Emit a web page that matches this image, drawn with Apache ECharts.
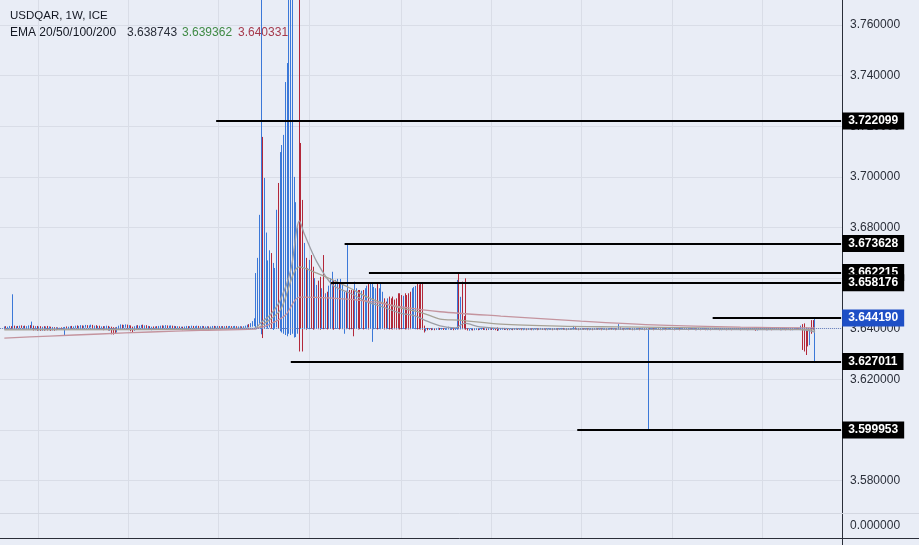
<!DOCTYPE html>
<html><head><meta charset="utf-8">
<script src="https://cdn.jsdelivr.net/npm/echarts@6.0.0/dist/echarts.min.js"></script>
<style>html,body{margin:0;padding:0;background:#e9edf6;}#chart{width:919px;height:545px;}</style>
</head><body><div id="chart"></div>
<script>
// ---------- DATA ----------
const firstCategoryWeek = '2014-08-04';
const weekCount = 485;           // weekly slots on the time axis (incl. right-hand padding)
const candleOffset = 2;          // first candle (2014-08-18) sits in slot 2

// weekly candles [open, high, low, close]
const weeklyOHLC = [
// 2014-08-18 ...
[3.6403,3.6409,3.6398,3.6406],[3.6406,3.6410,3.6400,3.6402],[3.6402,3.6408,3.6399,3.6405],[3.6405,3.6411,3.6401,3.6408],[3.6408,3.6410,3.6399,3.6403],
[3.6403,3.6536,3.6400,3.6409],[3.6409,3.6412,3.6401,3.6404],[3.6404,3.6410,3.6400,3.6407],[3.6407,3.6411,3.6402,3.6405],[3.6405,3.6412,3.6401,3.6409],
[3.6409,3.6413,3.6403,3.6406],[3.6406,3.6411,3.6400,3.6408],[3.6408,3.6412,3.6402,3.6404],[3.6404,3.6410,3.6399,3.6407],[3.6407,3.6413,3.6403,3.6410],
[3.6410,3.6414,3.6402,3.6405],[3.6405,3.6428,3.6401,3.6409],[3.6409,3.6412,3.6393,3.6398],[3.6398,3.6410,3.6394,3.6406],[3.6406,3.6411,3.6392,3.6397],
[3.6397,3.6409,3.6393,3.6405],[3.6405,3.6410,3.6391,3.6396],[3.6396,3.6408,3.6392,3.6404],[3.6404,3.6410,3.6392,3.6397],[3.6397,3.6409,3.6394,3.6406],
[3.6406,3.6411,3.6393,3.6398],[3.6398,3.6409,3.6394,3.6403],[3.6403,3.6408,3.6391,3.6396],[3.6396,3.6407,3.6393,3.6402],[3.6402,3.6406,3.6392,3.6397],
[3.6397,3.6406,3.6394,3.6401],[3.6401,3.6405,3.6395,3.6398],[3.6398,3.6404,3.6395,3.6402],[3.6402,3.6405,3.6396,3.6399],[3.6399,3.6406,3.6395,3.6403],
[3.6403,3.6407,3.6375,3.6405],[3.6405,3.6409,3.6399,3.6402],[3.6402,3.6408,3.6398,3.6406],[3.6406,3.6410,3.6400,3.6408],[3.6408,3.6411,3.6399,3.6403],
[3.6403,3.6409,3.6400,3.6407],[3.6407,3.6412,3.6402,3.6410],[3.6410,3.6413,3.6401,3.6404],[3.6404,3.6411,3.6400,3.6409],[3.6409,3.6414,3.6403,3.6411],
[3.6411,3.6413,3.6402,3.6405],[3.6405,3.6412,3.6401,3.6410],[3.6410,3.6415,3.6404,3.6412],[3.6412,3.6414,3.6403,3.6406],[3.6406,3.6413,3.6402,3.6411],
[3.6411,3.6416,3.6405,3.6413],[3.6413,3.6415,3.6401,3.6404],[3.6404,3.6412,3.6400,3.6410],[3.6410,3.6414,3.6398,3.6401],[3.6401,3.6411,3.6397,3.6408],
[3.6408,3.6412,3.6396,3.6400],[3.6400,3.6409,3.6395,3.6406],[3.6406,3.6410,3.6394,3.6399],[3.6399,3.6410,3.6396,3.6407],[3.6407,3.6412,3.6398,3.6409],
[3.6409,3.6411,3.6393,3.6397],[3.6397,3.6408,3.6392,3.6404],[3.6404,3.6408,3.6378,3.6392],[3.6392,3.6406,3.6377,3.6390],[3.6395,3.6405,3.6380,3.6388],
[3.6388,3.6407,3.6385,3.6404],[3.6404,3.6412,3.6398,3.6410],[3.6410,3.6417,3.6402,3.6413],[3.6413,3.6416,3.6401,3.6406],[3.6406,3.6415,3.6402,3.6412],
[3.6412,3.6417,3.6404,3.6414],[3.6414,3.6416,3.6400,3.6405],[3.6405,3.6414,3.6401,3.6411],[3.6411,3.6413,3.6390,3.6396],[3.6404,3.6408,3.6385,3.6395],
[3.6395,3.6410,3.6392,3.6407],[3.6407,3.6413,3.6401,3.6410],[3.6410,3.6414,3.6400,3.6404],[3.6404,3.6412,3.6400,3.6409],[3.6409,3.6415,3.6403,3.6412],
[3.6412,3.6416,3.6402,3.6406],[3.6406,3.6413,3.6401,3.6410],[3.6410,3.6414,3.6400,3.6404],[3.6404,3.6411,3.6399,3.6408],[3.6408,3.6410,3.6397,3.6401],
[3.6401,3.6408,3.6394,3.6405],[3.6405,3.6409,3.6396,3.6402],[3.6402,3.6409,3.6395,3.6406],[3.6406,3.6410,3.6398,3.6403],[3.6403,3.6411,3.6399,3.6408],
[3.6408,3.6412,3.6401,3.6410],[3.6410,3.6413,3.6400,3.6405],[3.6405,3.6412,3.6401,3.6409],[3.6409,3.6414,3.6402,3.6411],[3.6411,3.6413,3.6401,3.6404],
[3.6404,3.6412,3.6400,3.6409],[3.6409,3.6413,3.6403,3.6410],[3.6410,3.6412,3.6399,3.6403],[3.6403,3.6411,3.6400,3.6408],[3.6408,3.6410,3.6396,3.6400],
[3.6400,3.6410,3.6397,3.6407],[3.6407,3.6409,3.6395,3.6399],[3.6399,3.6408,3.6396,3.6405],[3.6405,3.6408,3.6394,3.6398],[3.6398,3.6409,3.6395,3.6406],
[3.6406,3.6411,3.6400,3.6409],[3.6409,3.6410,3.6397,3.6401],[3.6401,3.6410,3.6398,3.6407],[3.6407,3.6412,3.6401,3.6410],[3.6410,3.6411,3.6398,3.6402],
[3.6402,3.6410,3.6399,3.6408],[3.6408,3.6412,3.6402,3.6410],[3.6410,3.6411,3.6399,3.6403],[3.6403,3.6410,3.6400,3.6407],[3.6407,3.6411,3.6401,3.6409],
[3.6409,3.6410,3.6398,3.6402],[3.6402,3.6409,3.6399,3.6406],[3.6406,3.6410,3.6400,3.6408],[3.6408,3.6409,3.6397,3.6401],[3.6401,3.6409,3.6398,3.6406],
[3.6406,3.6411,3.6401,3.6409],[3.6409,3.6411,3.6399,3.6403],[3.6403,3.6410,3.6400,3.6408],[3.6408,3.6411,3.6402,3.6409],[3.6409,3.6410,3.6400,3.6404],
[3.6404,3.6410,3.6401,3.6408],[3.6408,3.6410,3.6402,3.6406],[3.6406,3.6410,3.6401,3.6408],[3.6408,3.6411,3.6402,3.6405],[3.6405,3.6410,3.6401,3.6408],
[3.6408,3.6411,3.6403,3.6409],[3.6409,3.6410,3.6400,3.6404],[3.6404,3.6410,3.6401,3.6408],[3.6408,3.6411,3.6402,3.6409],[3.6409,3.6410,3.6401,3.6403],
[3.6403,3.6409,3.6400,3.6407],[3.6407,3.6410,3.6402,3.6408],[3.6408,3.6409,3.6399,3.6402],[3.6402,3.6410,3.6400,3.6408],[3.6408,3.6412,3.6403,3.6410],
[3.6410,3.6416,3.6404,3.6413],[3.6413,3.6418,3.6405,3.6410],[3.6410,3.6422,3.6406,3.6418],[3.6418,3.6430,3.6408,3.6425],[3.6425,3.6441,3.6410,3.6435],
// 2017 spike
[3.6420,3.6620,3.6398,3.6560],[3.6460,3.6680,3.6400,3.6600],[3.6500,3.6850,3.6420,3.6700],[3.6450,3.7950,3.6378,3.6900],[3.6700,3.7158,3.6363,3.6450],
[3.6450,3.6996,3.6400,3.6700],[3.6450,3.6780,3.6405,3.6600],[3.6450,3.6670,3.6400,3.6550],[3.6480,3.6710,3.6405,3.6600],[3.6600,3.6699,3.6400,3.6450],
[3.6450,3.6660,3.6395,3.6550],[3.6480,3.6640,3.6400,3.6580],[3.6500,3.6870,3.6405,3.6700],[3.6700,3.6976,3.6400,3.6500],[3.6500,3.7098,3.6390,3.6800],
[3.6550,3.7126,3.6385,3.6850],[3.6600,3.7166,3.6380,3.6900],[3.6650,3.7375,3.6375,3.7000],[3.6700,3.7450,3.6370,3.7200],[3.6800,3.8000,3.6380,3.7300],
[3.6900,3.8000,3.6375,3.7400],[3.6800,3.8000,3.6380,3.7100],[3.6600,3.7000,3.6365,3.6800],[3.6550,3.6900,3.6367,3.6750],[3.6500,3.6800,3.6380,3.6700],
[3.8000,3.8100,3.6310,3.7600],[3.6650,3.7134,3.6400,3.6450],[3.6600,3.6909,3.6310,3.6450],
// decay
[3.6450,3.6739,3.6398,3.6600],[3.6620,3.6680,3.6396,3.6450],[3.6450,3.6640,3.6400,3.6580],[3.6480,3.6672,3.6398,3.6600],[3.6600,3.6691,3.6400,3.6450],
[3.6580,3.6645,3.6396,3.6440],[3.6440,3.6600,3.6398,3.6550],[3.6450,3.6573,3.6400,3.6520],[3.6540,3.6590,3.6398,3.6430],[3.6560,3.6605,3.6396,3.6430],
[3.6430,3.6560,3.6399,3.6520],[3.6600,3.6691,3.6398,3.6450],[3.6440,3.6540,3.6400,3.6500],[3.6520,3.6546,3.6397,3.6430],[3.6430,3.6570,3.6399,3.6530],
[3.6450,3.6600,3.6400,3.6560],[3.6460,3.6625,3.6398,3.6580],[3.6560,3.6590,3.6396,3.6440],[3.6440,3.6593,3.6399,3.6550],[3.6450,3.6597,3.6400,3.6560],
[3.6560,3.6580,3.6397,3.6440],[3.6440,3.6597,3.6399,3.6550],[3.6450,3.6573,3.6398,3.6530],[3.6440,3.6546,3.6380,3.6500],[3.6520,3.6550,3.6398,3.6440],
[3.6440,3.6735,3.6400,3.6560],[3.6540,3.6553,3.6397,3.6430],[3.6530,3.6553,3.6398,3.6430],[3.6540,3.6553,3.6370,3.6440],[3.6440,3.6586,3.6399,3.6550],
[3.6450,3.6560,3.6400,3.6530],[3.6540,3.6553,3.6397,3.6440],[3.6540,3.6553,3.6398,3.6440],[3.6440,3.6550,3.6400,3.6520],[3.6530,3.6553,3.6397,3.6430],
[3.6430,3.6560,3.6399,3.6530],[3.6440,3.6570,3.6398,3.6540],[3.6560,3.6582,3.6397,3.6440],[3.6440,3.6579,3.6400,3.6550],[3.6450,3.6579,3.6348,3.6540],
[3.6440,3.6565,3.6398,3.6530],[3.6450,3.6560,3.6400,3.6520],[3.6560,3.6579,3.6397,3.6440],[3.6440,3.6560,3.6399,3.6520],[3.6450,3.6579,3.6398,3.6540],
[3.6440,3.6546,3.6400,3.6510],[3.6500,3.6520,3.6397,3.6430],[3.6490,3.6507,3.6398,3.6430],[3.6430,3.6520,3.6399,3.6500],[3.6500,3.6527,3.6397,3.6430],
[3.6500,3.6520,3.6398,3.6430],[3.6510,3.6527,3.6397,3.6440],[3.6500,3.6515,3.6398,3.6430],[3.6500,3.6520,3.6397,3.6430],[3.6520,3.6540,3.6398,3.6440],
[3.6520,3.6540,3.6397,3.6440],[3.6510,3.6533,3.6398,3.6440],[3.6440,3.6530,3.6399,3.6510],[3.6520,3.6540,3.6397,3.6440],[3.6510,3.6533,3.6398,3.6440],
[3.6520,3.6540,3.6397,3.6440],[3.6530,3.6546,3.6398,3.6440],[3.6440,3.6560,3.6399,3.6530],[3.6450,3.6565,3.6400,3.6540],[3.6450,3.6569,3.6398,3.6550],
[3.6560,3.6579,3.6397,3.6440],[3.6560,3.6575,3.6398,3.6440],[3.6560,3.6579,3.6397,3.6440],[3.6570,3.6582,3.6396,3.6420],[3.6410,3.6412,3.6385,3.6395],
[3.6395,3.6402,3.6390,3.6400],
// flat 2019 - 2023
[3.6400,3.6403,3.6394,3.6397],[3.6397,3.6402,3.6395,3.6400],[3.6400,3.6402,3.6394,3.6396],[3.6396,3.6403,3.6395,3.6401],[3.6401,3.6402,3.6394,3.6398],
[3.6398,3.6402,3.6395,3.6400],[3.6400,3.6404,3.6396,3.6402],[3.6402,3.6403,3.6395,3.6398],[3.6398,3.6403,3.6396,3.6401],[3.6401,3.6402,3.6395,3.6397],
[3.6397,3.6402,3.6395,3.6400],[3.6400,3.6404,3.6396,3.6402],[3.6402,3.6408,3.6397,3.6405],[3.6405,3.6406,3.6396,3.6399],[3.6399,3.6403,3.6395,3.6401],
[3.6401,3.6402,3.6394,3.6397],[3.6397,3.6403,3.6395,3.6400],
[3.6400,3.6593,3.6396,3.6560],[3.6590,3.6621,3.6398,3.6420],[3.6420,3.6526,3.6397,3.6500],[3.6560,3.6586,3.6398,3.6420],[3.6420,3.6450,3.6398,3.6405],[3.6580,3.6599,3.6396,3.6400],
[3.6400,3.6402,3.6393,3.6396],[3.6396,3.6401,3.6392,3.6399],[3.6399,3.6402,3.6394,3.6400],[3.6400,3.6401,3.6393,3.6396],[3.6396,3.6402,3.6394,3.6400],
[3.6400,3.6403,3.6395,3.6401],[3.6401,3.6402,3.6394,3.6397],[3.6397,3.6402,3.6395,3.6400],[3.6400,3.6403,3.6396,3.6402],[3.6402,3.6403,3.6395,3.6398],
[3.6398,3.6402,3.6395,3.6400],[3.6400,3.6402,3.6394,3.6397],[3.6397,3.6402,3.6395,3.6401],[3.6401,3.6403,3.6396,3.6402],[3.6402,3.6403,3.6395,3.6398],
[3.6398,3.6402,3.6395,3.6400],[3.6400,3.6402,3.6394,3.6397],[3.6403,3.6405,3.6391,3.6395],[3.6395,3.6401,3.6393,3.6399],[3.6399,3.6402,3.6395,3.6400],
[3.6400,3.6403,3.6396,3.6402],[3.6402,3.6403,3.6395,3.6397],[3.6397,3.6402,3.6395,3.6400],[3.6400,3.6402,3.6394,3.6396],[3.6396,3.6401,3.6394,3.6399],
[3.6399,3.6402,3.6395,3.6401],[3.6401,3.6402,3.6394,3.6397],[3.6397,3.6401,3.6395,3.6400],[3.6400,3.6403,3.6396,3.6401],[3.6401,3.6402,3.6395,3.6398],
[3.6398,3.6402,3.6395,3.6400],[3.6400,3.6402,3.6394,3.6396],[3.6396,3.6402,3.6394,3.6400],[3.6400,3.6403,3.6396,3.6401],[3.6401,3.6402,3.6394,3.6397],
[3.6397,3.6401,3.6395,3.6400],[3.6400,3.6402,3.6395,3.6401],[3.6401,3.6402,3.6394,3.6396],[3.6396,3.6401,3.6394,3.6399],[3.6399,3.6402,3.6395,3.6400],
[3.6400,3.6402,3.6394,3.6397],[3.6397,3.6401,3.6395,3.6400],[3.6400,3.6403,3.6396,3.6401],[3.6401,3.6402,3.6395,3.6398],[3.6398,3.6402,3.6395,3.6400],
[3.6400,3.6401,3.6394,3.6396],[3.6396,3.6401,3.6394,3.6399],[3.6399,3.6402,3.6395,3.6400],[3.6400,3.6402,3.6395,3.6401],[3.6401,3.6402,3.6394,3.6397],
[3.6397,3.6401,3.6395,3.6400],[3.6400,3.6402,3.6395,3.6401],[3.6401,3.6402,3.6394,3.6397],[3.6397,3.6402,3.6395,3.6400],[3.6400,3.6403,3.6396,3.6402],
[3.6402,3.6403,3.6395,3.6398],[3.6398,3.6402,3.6395,3.6400],[3.6400,3.6402,3.6394,3.6397],[3.6397,3.6402,3.6395,3.6401],[3.6401,3.6402,3.6395,3.6398],
[3.6398,3.6402,3.6395,3.6400],[3.6400,3.6411,3.6396,3.6404],[3.6404,3.6405,3.6396,3.6399],[3.6399,3.6403,3.6395,3.6401],[3.6401,3.6402,3.6394,3.6397],
[3.6397,3.6402,3.6395,3.6400],[3.6400,3.6403,3.6396,3.6401],[3.6401,3.6402,3.6395,3.6398],[3.6398,3.6402,3.6395,3.6400],[3.6400,3.6402,3.6394,3.6396],
[3.6396,3.6401,3.6394,3.6399],[3.6399,3.6402,3.6395,3.6401],[3.6401,3.6402,3.6394,3.6397],[3.6397,3.6402,3.6395,3.6400],[3.6400,3.6403,3.6396,3.6401],
[3.6401,3.6402,3.6395,3.6398],[3.6398,3.6402,3.6395,3.6400],[3.6400,3.6402,3.6394,3.6397],[3.6397,3.6401,3.6395,3.6400],[3.6400,3.6402,3.6395,3.6401],
[3.6401,3.6402,3.6394,3.6397],[3.6397,3.6402,3.6395,3.6400],[3.6400,3.6403,3.6396,3.6402],[3.6402,3.6403,3.6395,3.6398],[3.6398,3.6402,3.6395,3.6400],
[3.6400,3.6402,3.6394,3.6397],[3.6397,3.6402,3.6395,3.6400],[3.6400,3.6418,3.6396,3.6404],[3.6404,3.6405,3.6395,3.6399],[3.6399,3.6402,3.6395,3.6400],
[3.6400,3.6402,3.6394,3.6397],[3.6397,3.6401,3.6395,3.6400],[3.6400,3.6403,3.6396,3.6401],[3.6401,3.6402,3.6395,3.6398],[3.6398,3.6402,3.6395,3.6400],
[3.6400,3.6401,3.6394,3.6396],[3.6396,3.6401,3.6394,3.6399],[3.6399,3.6402,3.6395,3.6400],[3.6400,3.6402,3.6395,3.6401],[3.6401,3.6402,3.6394,3.6397],
[3.6397,3.6401,3.6395,3.6400],[3.6400,3.6402,3.6395,3.6401],[3.6401,3.6402,3.6394,3.6397],[3.6397,3.6402,3.6395,3.6400],[3.6396,3.6403,3.59995,3.6401],
[3.6401,3.6402,3.6395,3.6398],[3.6398,3.6402,3.6395,3.6400],[3.6400,3.6402,3.6394,3.6397],[3.6397,3.6402,3.6395,3.6401],[3.6401,3.6402,3.6395,3.6398],
[3.6398,3.6402,3.6395,3.6400],[3.6400,3.6402,3.6394,3.6396],[3.6396,3.6401,3.6394,3.6399],[3.6399,3.6402,3.6395,3.6401],[3.6401,3.6402,3.6394,3.6397],
[3.6397,3.6401,3.6395,3.6400],[3.6400,3.6403,3.6396,3.6401],[3.6401,3.6402,3.6395,3.6398],[3.6398,3.6402,3.6395,3.6400],[3.6400,3.6402,3.6394,3.6397],
[3.6397,3.6401,3.6395,3.6400],[3.6400,3.6402,3.6395,3.6401],[3.6401,3.6402,3.6394,3.6397],[3.6397,3.6402,3.6395,3.6400],[3.6400,3.6403,3.6396,3.6402],
[3.6402,3.6403,3.6395,3.6398],[3.6398,3.6402,3.6395,3.6400],[3.6400,3.6402,3.6394,3.6397],[3.6397,3.6402,3.6395,3.6401],[3.6401,3.6402,3.6395,3.6398],
[3.6398,3.6402,3.6395,3.6400],[3.6400,3.6402,3.6394,3.6396],[3.6396,3.6402,3.6394,3.6400],[3.6400,3.6403,3.6396,3.6401],[3.6401,3.6402,3.6394,3.6397],
[3.6397,3.6401,3.6395,3.6400],[3.6400,3.6402,3.6395,3.6401],[3.6401,3.6402,3.6394,3.6396],[3.6396,3.6401,3.6394,3.6399],[3.6399,3.6402,3.6395,3.6400],
[3.6400,3.6402,3.6394,3.6397],[3.6397,3.6401,3.6395,3.6400],[3.6400,3.6403,3.6396,3.6401],[3.6401,3.6402,3.6395,3.6398],[3.6398,3.6402,3.6395,3.6400],
[3.6400,3.6401,3.6394,3.6396],[3.6396,3.6401,3.6394,3.6399],[3.6399,3.6402,3.6395,3.6400],[3.6400,3.6402,3.6395,3.6401],[3.6401,3.6402,3.6394,3.6397],
[3.6397,3.6401,3.6395,3.6400],[3.6400,3.6402,3.6395,3.6401],[3.6401,3.6402,3.6394,3.6397],[3.6397,3.6402,3.6395,3.6400],[3.6400,3.6403,3.6396,3.6402],
[3.6402,3.6403,3.6395,3.6398],[3.6398,3.6402,3.6395,3.6400],[3.6400,3.6402,3.6394,3.6397],[3.6397,3.6402,3.6395,3.6401],[3.6401,3.6402,3.6395,3.6398],
[3.6398,3.6402,3.6395,3.6400],[3.6400,3.6402,3.6394,3.6397],[3.6397,3.6402,3.6395,3.6401],[3.6401,3.6403,3.6396,3.6402],[3.6402,3.6403,3.6395,3.6398],
[3.6398,3.6402,3.6395,3.6400],[3.6403,3.6405,3.6392,3.6395],[3.6395,3.6401,3.6393,3.6399],[3.6399,3.6402,3.6395,3.6400],[3.6400,3.6403,3.6396,3.6402],
[3.6402,3.6403,3.6395,3.6397],[3.6397,3.6402,3.6395,3.6400],[3.6400,3.6402,3.6394,3.6396],[3.6396,3.6401,3.6394,3.6399],[3.6399,3.6402,3.6395,3.6401],
[3.6401,3.6402,3.6394,3.6397],[3.6397,3.6401,3.6395,3.6400],[3.6400,3.6403,3.6396,3.6401],[3.6401,3.6402,3.6395,3.6398],[3.6398,3.6402,3.6395,3.6400],
[3.6400,3.6402,3.6394,3.6396],[3.6396,3.6402,3.6394,3.6400],[3.6400,3.6403,3.6396,3.6401],[3.6401,3.6402,3.6394,3.6397],[3.6397,3.6401,3.6395,3.6400],
[3.6400,3.6402,3.6395,3.6401],[3.6401,3.6402,3.6394,3.6396],[3.6396,3.6401,3.6394,3.6399],[3.6399,3.6402,3.6395,3.6400],[3.6400,3.6403,3.6396,3.6402],
[3.6402,3.6403,3.6395,3.6398],
// 2023 drop
[3.6398,3.6402,3.6395,3.6400],[3.6400,3.6412,3.6396,3.6408],[3.6410,3.6418,3.6316,3.6340],[3.6400,3.6421,3.6310,3.6330],[3.6390,3.6405,3.6296,3.6320],
[3.6380,3.6400,3.6330,3.6345],[3.6345,3.6400,3.6335,3.6390],[3.6430,3.6434,3.6380,3.6390],[3.6420,3.6434,3.6395,3.6400],[3.6300,3.6442,3.6270,3.6393]
];

// EMA readings [week index, value]
const ema20Points = [[0,3.6398],[144,3.6402],[148,3.6425],[153,3.6453],[159,3.6513],[165,3.6632],[170,3.6826],[173,3.6771],[180,3.6664],[189,3.6573],[199,3.6541],[209,3.6506],[218,3.6486],[228,3.6462],[237,3.6450],[242,3.6434],[251,3.6411],[260,3.6403],[265,3.6422],[274,3.6407],[297,3.6399],[355,3.6398],[401,3.6397],[458,3.6396],[467,3.6387]];
const ema50Points = [[0,3.6395],[144,3.6399],[150,3.6422],[159,3.6474],[170,3.6644],[180,3.6620],[189,3.6593],[199,3.6561],[209,3.6525],[218,3.6502],[228,3.6482],[241,3.6462],[251,3.6438],[262,3.6434],[286,3.6418],[320,3.6410],[355,3.6407],[401,3.6403],[458,3.6398],[467,3.6394]];
const ema100Points = [[0,3.6363],[26,3.6371],[55,3.6379],[84,3.6387],[113,3.6393],[144,3.6399],[153,3.6418],[162,3.6454],[170,3.6525],[189,3.6521],[209,3.6509],[228,3.6487],[251,3.6467],[286,3.6450],[332,3.6430],[378,3.6414],[424,3.6406],[467,3.6403]];
const emaLegendValues = ['3.638743', '3.639362', '3.640331'];

// horizontal levels drawn on the chart
const levelValues = [3.722099, 3.673628, 3.662215, 3.658176, 3.644190, 3.627011, 3.599953];
const levelStartWeek = [122, 196, 210, 188, 408, 165, 330];
const lastPrice = 3.6393;

// price axis
const priceMin = 3.58, priceMax = 3.76, priceStep = 0.02;

// ---------- BUILD ----------
const categories = [];
(function(){
  const p = firstCategoryWeek.split('-').map(Number);
  const t0 = Date.UTC(p[0], p[1]-1, p[2]);
  for (let k = 0; k < weekCount; k++) categories.push(new Date(t0 + k*7*864e5).toISOString().slice(0,10));
})();
const isYearStart = (i) => i > 0 && categories[i].slice(0,4) !== categories[i-1].slice(0,4);

const candleData = categories.map((c, k) => {
  const r = weeklyOHLC[k - candleOffset];
  return r ? [r[0], r[3], r[2], r[1]] : '-';
});
const toSlots = pts => pts.map(p => [p[0] + candleOffset, p[1]]);

const UP = '#3b78d8', DOWN = '#b3283a';
const FONT = '"Liberation Sans", Arial, sans-serif';
const hidden = {axisLine:{show:false}, axisTick:{show:false}, axisLabel:{show:false}, splitLine:{show:false}};

const levelLines = levelValues.map((v, i) => [
  {coord:[levelStartWeek[i] + candleOffset, v], name: v.toFixed(6),
   label: i === 4 ? {backgroundColor:'#1e4fc6'} : {}},
  {coord:[weekCount - 1, v]}
]);

const chart = echarts.init(document.getElementById('chart'));
chart.setOption({
  animation:false,
  backgroundColor:'#e9edf6',
  textStyle:{fontFamily:FONT},
  title:[
    {text:'USDQAR, 1W, ICE', left:10, top:10, padding:0, textStyle:{fontSize:11.5, fontWeight:'normal', color:'#131722', fontFamily:FONT}},
    {text:'{a|EMA 20/50/100/200}{b|' + emaLegendValues[0] + '}{c|' + emaLegendValues[1] + '}{d|' + emaLegendValues[2] + '}',
     left:10, top:27, padding:0,
     textStyle:{fontSize:12, fontWeight:'normal', fontFamily:FONT, rich:{
       a:{fontSize:12, color:'#131722', width:117, fontFamily:FONT},
       b:{fontSize:12, color:'#2a2e39', width:55, fontFamily:FONT},
       c:{fontSize:12, color:'#3f8a44', width:56, fontFamily:FONT},
       d:{fontSize:12, color:'#a63a4c', fontFamily:FONT}
     }}}
  ],
  grid:[
    {left:0, top:25.1, width:842, height:455.4},          // price pane
    {left:0, top:0, width:842, height:538},               // full-height time grid
    {left:0, top:513, width:842, height:25},              // lower pane
    {left:842, top:0, width:77, height:545},              // price-scale border
    {left:0, top:513, width:919, height:25}               // pane separator & bottom line
  ],
  xAxis:[
    Object.assign({type:'category', gridIndex:0, data:categories, boundaryGap:true}, hidden),
    {type:'category', gridIndex:1, data:categories, boundaryGap:true,
     axisLine:{show:false}, axisTick:{show:false}, axisLabel:{show:false},
     splitLine:{show:true, interval:(i) => isYearStart(i), lineStyle:{color:'#d9dde7', width:1}}},
    Object.assign({type:'category', gridIndex:2, data:categories}, hidden),
    Object.assign({type:'value', gridIndex:3}, hidden),
    Object.assign({type:'value', gridIndex:4, position:'top'}, hidden, {axisLine:{show:true, onZero:false, lineStyle:{color:'#d3d7e1', width:1}}}),
    Object.assign({type:'value', gridIndex:4, position:'bottom'}, hidden, {axisLine:{show:true, onZero:false, lineStyle:{color:'#2a2e39', width:1}}})
  ],
  yAxis:[
    {type:'value', gridIndex:0, position:'right', min:priceMin, max:priceMax, interval:priceStep,
     axisLine:{show:false}, axisTick:{show:false},
     axisLabel:{show:true, margin:8, color:'#2a2e39', fontSize:12, fontFamily:FONT, formatter:v => v.toFixed(6)},
     splitLine:{show:true, lineStyle:{color:'#d9dde7', width:1}}},
    Object.assign({type:'value', gridIndex:1}, hidden),
    {type:'value', gridIndex:2, position:'right', min:-1, max:1, interval:1,
     axisLine:{show:false}, axisTick:{show:false}, splitLine:{show:false},
     axisLabel:{show:true, margin:8, color:'#2a2e39', fontSize:12, fontFamily:FONT,
       formatter:v => v === 0 ? (0).toFixed(6) : ''}},
    Object.assign({type:'value', gridIndex:3, position:'left'}, hidden, {axisLine:{show:true, onZero:false, lineStyle:{color:'#2a2e39', width:1}}}),
    Object.assign({type:'value', gridIndex:4}, hidden)
  ],
  series:[
    {type:'candlestick', name:'USDQAR', xAxisIndex:0, yAxisIndex:0, data:candleData,
     barWidth:0.8, clip:false, large:false,
     itemStyle:{color:UP, color0:DOWN, borderColor:UP, borderColor0:DOWN, borderWidth:1},
     markLine:{silent:true, symbol:['none','none'], animation:false,
       lineStyle:{type:'solid', color:'#000000', width:2},
       label:{show:true, position:'end', distance:1, formatter:'{b}', color:'#ffffff', fontWeight:'bold',
              fontSize:12, fontFamily:FONT, backgroundColor:'#000000', padding:[3,6,2,6]},
       data:[{yAxis:lastPrice, name:'', lineStyle:{type:'dotted', color:'#6d86c4', width:1}, label:{show:false}}].concat(levelLines)}},
    {type:'line', name:'EMA 20', xAxisIndex:0, yAxisIndex:0, data:toSlots(ema20Points), showSymbol:false, smooth:0.3,
     lineStyle:{color:'#9c9ea6', width:1.3}, z:3},
    {type:'line', name:'EMA 50', xAxisIndex:0, yAxisIndex:0, data:toSlots(ema50Points), showSymbol:false, smooth:0.3,
     lineStyle:{color:'#a6a296', width:1.3}, z:3},
    {type:'line', name:'EMA 100', xAxisIndex:0, yAxisIndex:0, data:toSlots(ema100Points), showSymbol:false, smooth:0.3,
     lineStyle:{color:'#c4949e', width:1.3}, z:3}
  ]
});
</script></body></html>
